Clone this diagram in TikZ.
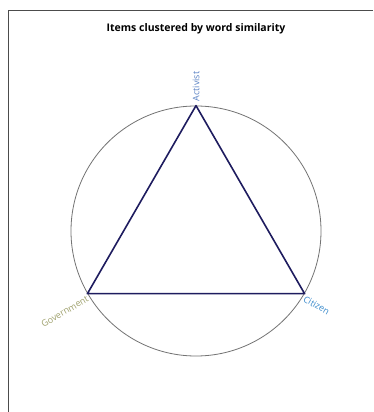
\documentclass[tikz,border=0pt]{standalone}
\usepackage{fontspec}
\setmainfont{Open Sans}
\begin{document}
\begin{tikzpicture}[x=1pt,y=-1pt,
  frameline/.style={draw=black!70,line width=1pt},
  ring/.style={draw=black!55,line width=0.8pt},
  edge/.style={draw={rgb,255:red,30;green,28;blue,95},line width=1.6pt,line join=round},
  lbl/.style={font=\fontsize{9}{11}\selectfont\addfontfeature{Weight=300}, inner sep=1pt}]
\useasboundingbox (0,0) rectangle (373,412);
\fill[white] (0,0) rectangle (373,412);
\draw[frameline] (8,412) -- (8,11) -- (373,11);
\node[font=\fontsize{10.5}{12}\selectfont\bfseries] (title) at (196,29) {Items clustered by word similarity};
\node[ring,circle,minimum size=250pt,inner sep=0pt] (c) at (196,231) {};
\coordinate (A) at (c.90);
\coordinate (G) at (c.210);
\coordinate (C) at (c.330);
\draw[edge] (A) -- (C) -- (G) -- cycle;
\node[lbl,text={rgb,255:red,90;green,130;blue,196},rotate=90,anchor=west] (la) at ([yshift=3pt]A) {Activist};
\node[lbl,text={rgb,255:red,160;green,162;blue,110},rotate=30,anchor=north east] (lg) at ([xshift=-1pt]G) {Government};
\node[lbl,text={rgb,255:red,60;green,140;blue,205},rotate=-30,anchor=north west] (lc) at ([xshift=1pt]C) {Citizen};
\end{tikzpicture}
\end{document}
